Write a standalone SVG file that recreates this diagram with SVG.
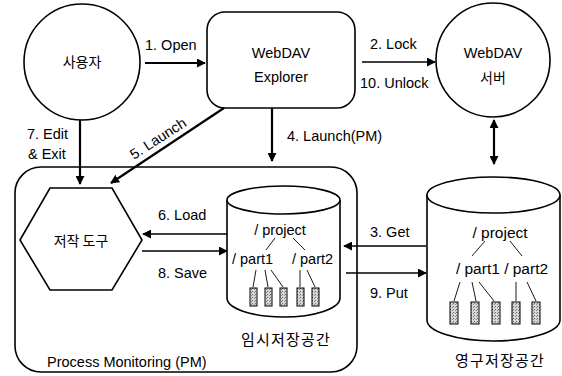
<svg xmlns="http://www.w3.org/2000/svg" width="562" height="376" viewBox="0 0 562 376">
<defs>
<marker id="ahs" viewBox="0 0 10 10" refX="9" refY="5" markerWidth="9" markerHeight="9" orient="auto-start-reverse" markerUnits="userSpaceOnUse">
<path d="M0,0 L10,5 L0,10 z" fill="#000"/>
</marker>
<pattern id="dots" width="3" height="3" patternUnits="userSpaceOnUse">
<rect width="3" height="3" fill="#d8d8d8"/>
<rect x="0" y="0" width="1" height="1" fill="#666"/>
<rect x="2" y="1" width="1" height="1" fill="#888"/>
</pattern>
</defs>
<style>
.shape{fill:#fff;stroke:#000;stroke-width:1.6}
.t{font-family:"Liberation Sans",Arial,sans-serif;font-size:14.5px;fill:#000}
.tb{font-family:"Liberation Sans",Arial,sans-serif;font-size:15.5px;fill:#000}
.k{font-family:"Noto Sans CJK KR","Liberation Sans",sans-serif;font-size:14px;fill:#000}
.kl{font-family:"Noto Sans CJK KR","Liberation Sans",sans-serif;font-size:15px;letter-spacing:1.2px;fill:#000}
.c{text-anchor:middle}
.ln{stroke:#000;stroke-width:2.2;fill:none}
.lt{stroke:#000;stroke-width:1.3;fill:none}
.tl{stroke:#000;stroke-width:0.9;fill:none}
.doc{fill:url(#dots);stroke:#000;stroke-width:1}
</style>

<g id="pm">
<rect class="shape" x="15" y="167" width="342" height="205" rx="26"/>
<text class="t" x="47" y="367">Process Monitoring (PM)</text>
</g>

<g id="user">
<circle class="shape" cx="82" cy="62" r="58"/>
<text class="k c" x="82" y="67">사용자</text>
</g>

<g id="explorer">
<rect class="shape" x="207" y="12" width="148" height="96" rx="18"/>
<text class="t c" x="281" y="58">WebDAV</text>
<text class="t c" x="281" y="82">Explorer</text>
</g>

<g id="server">
<circle class="shape" cx="493" cy="60" r="57"/>
<text class="t c" x="493" y="58">WebDAV</text>
<text class="k c" x="493" y="83">서버</text>
</g>

<g id="tool">
<polygon class="shape" points="20,240 50,188 112,188 142,240 112,290 50,290"/>
<text class="k c" x="81" y="246">저작 도구</text>
</g>

<g id="temp">
<path class="shape" d="M227,200 L227,298 A56.5,19 0 0 0 340,298 L340,200"/>
<ellipse class="shape" cx="283.5" cy="200" rx="56.5" ry="14"/>
<text class="t c" x="280" y="235">/ project</text>
<text class="t" x="232" y="264">/ part1</text>
<text class="t" x="292" y="264">/ part2</text>
<path class="tl" d="M275,238 L266,250 M293,238 L305,250 M256,270 L253,287 M265,270 L268,287 M271,270 L283,287 M300,270 L300,287 M307,270 L315,287"/>
<rect class="doc" x="250" y="288" width="7" height="18"/>
<rect class="doc" x="265" y="288" width="7" height="18"/>
<rect class="doc" x="280" y="288" width="7" height="18"/>
<rect class="doc" x="297" y="288" width="7" height="18"/>
<rect class="doc" x="312" y="288" width="7" height="18"/>
<text class="kl c" x="286" y="345">임시저장공간</text>
</g>

<g id="perm">
<path class="shape" d="M427,195 L427,320 A66.5,21 0 0 0 560,320 L560,195"/>
<ellipse class="shape" cx="493.5" cy="195" rx="66.5" ry="18"/>
<text class="tb c" x="500" y="238">/ project</text>
<text class="tb c" x="502" y="274">/ part1 / part2</text>
<path class="tl" d="M485,241 L472,256 M510,241 L522,256 M460,282 L454,301 M472,282 L476,301 M479,282 L494,301 M516,282 L516,301 M527,282 L536,301"/>
<rect class="doc" x="450" y="302" width="8" height="22"/>
<rect class="doc" x="471" y="302" width="8" height="22"/>
<rect class="doc" x="492" y="302" width="8" height="22"/>
<rect class="doc" x="512" y="302" width="8" height="22"/>
<rect class="doc" x="532" y="302" width="8" height="22"/>
<text class="kl c" x="500" y="366">영구저장공간</text>
</g>

<g id="connectors">
<line class="ln" x1="145" y1="63" x2="205" y2="63" marker-end="url(#ahs)"/>
<text class="t" x="145" y="50">1. Open</text>

<line class="lt" x1="362" y1="62" x2="435" y2="62" marker-end="url(#ahs)"/>
<text class="t" x="370" y="49">2. Lock</text>
<text class="t" x="360" y="88">10. Unlock</text>

<line class="ln" x1="494" y1="120" x2="494" y2="164" marker-start="url(#ahs)" marker-end="url(#ahs)"/>

<line class="ln" x1="272" y1="108" x2="272" y2="161" marker-end="url(#ahs)"/>
<text class="t" x="287" y="141">4. Launch(PM)</text>

<line class="ln" x1="224" y1="108" x2="111" y2="183" marker-end="url(#ahs)"/>
<text class="t" x="0" y="0" transform="translate(134,160) rotate(-33)">5. Launch</text>

<line class="ln" x1="80" y1="120" x2="80" y2="184" marker-end="url(#ahs)"/>
<text class="t" x="27" y="139">7. Edit</text>
<text class="t" x="28" y="159">&amp; Exit</text>

<line class="lt" x1="227" y1="234" x2="143" y2="234" marker-end="url(#ahs)"/>
<text class="t" x="158" y="220">6. Load</text>
<line class="lt" x1="142" y1="251" x2="227" y2="251" marker-end="url(#ahs)"/>
<text class="t" x="158" y="278">8. Save</text>

<line class="lt" x1="426" y1="246" x2="344" y2="246" marker-end="url(#ahs)"/>
<text class="t" x="370" y="237">3. Get</text>
<line class="lt" x1="346" y1="273" x2="426" y2="273" marker-end="url(#ahs)"/>
<text class="t" x="370" y="298">9. Put</text>
</g>
</svg>
